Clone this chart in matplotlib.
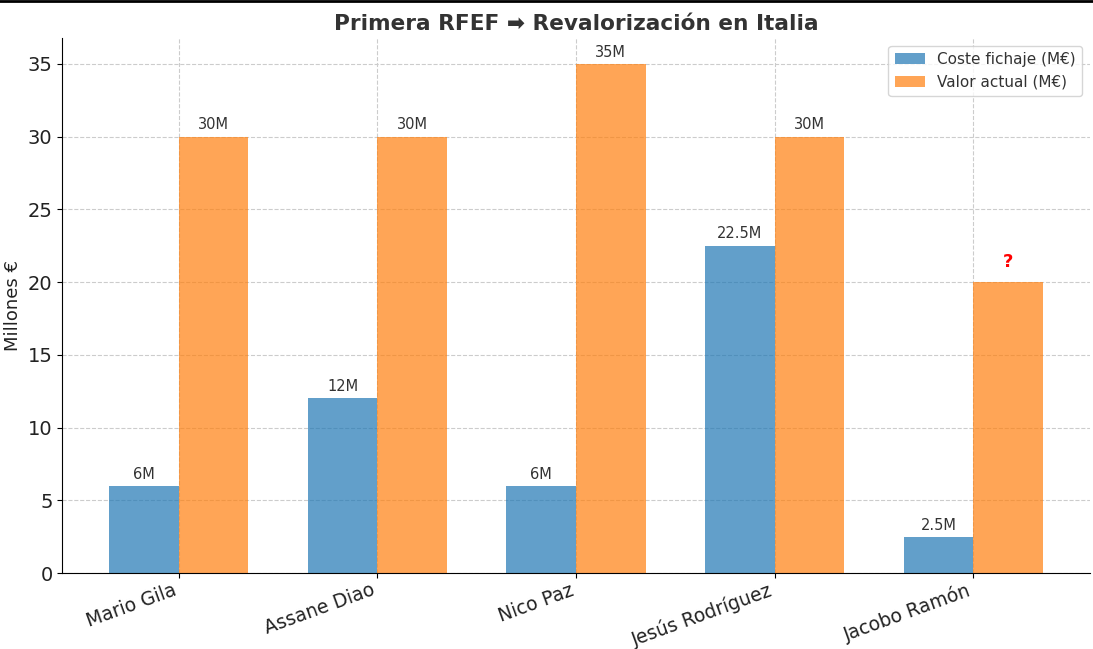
import matplotlib.pyplot as plt
import numpy as np

players = ["Mario Gila", "Assane Diao", "Nico Paz", "Jesús Rodríguez", "Jacobo Ramón"]
coste = [6, 12, 6, 22.5, 2.5]
valor = [30, 30, 35, 30, 20]
coste_labels = ["6M", "12M", "6M", "22.5M", "2.5M"]
valor_labels = ["30M", "30M", "35M", "30M", "?"]


def main():
    fig, ax = plt.subplots(figsize=(10.93, 6.49), dpi=100)
    x = np.arange(len(players))
    width = 0.35

    b1 = ax.bar(x - width / 2, coste, width, color="tab:blue", alpha=0.7,
                label="Coste fichaje (M€)", zorder=2)
    b2 = ax.bar(x + width / 2, valor, width, color="tab:orange", alpha=0.7,
                label="Valor actual (M€)", zorder=2)

    for rect, lab in zip(b1, coste_labels):
        ax.annotate(lab, (rect.get_x() + rect.get_width() / 2, rect.get_height()),
                    xytext=(0, 3), textcoords="offset points",
                    ha="center", va="bottom", fontsize=10.5, color="#333333")
    for rect, lab in zip(b2, valor_labels):
        if lab == "?":
            ax.annotate(lab, (rect.get_x() + rect.get_width() / 2, rect.get_height()),
                        xytext=(0, 8), textcoords="offset points",
                        ha="center", va="bottom", fontsize=13,
                        fontweight="bold", color="red")
        else:
            ax.annotate(lab, (rect.get_x() + rect.get_width() / 2, rect.get_height()),
                        xytext=(0, 3), textcoords="offset points",
                        ha="center", va="bottom", fontsize=10.5, color="#333333")

    ax.set_xticks(x)
    ax.set_xticklabels(players, rotation=20, ha="right", fontsize=13.5, color="#222222")
    ax.tick_params(axis="x", pad=2)
    ax.tick_params(axis="y", labelsize=14, labelcolor="#222222")
    ax.set_ylabel("Millones €", fontsize=13, color="#222222")
    ax.set_title("Primera RFEF ➡ Revalorización en Italia", fontsize=15.6,
                 fontweight="bold", color="#333333")
    ax.grid(True, linestyle="--", color="#cccccc", linewidth=0.8, zorder=0)
    ax.set_axisbelow(True)
    ax.spines["top"].set_visible(False)
    ax.spines["right"].set_visible(False)
    leg = ax.legend(loc="upper right", fontsize=11)
    for t in leg.get_texts():
        t.set_color("#333333")

    fig.subplots_adjust(left=0.057, right=0.997, top=0.941, bottom=0.117)
    fig.add_artist(plt.Line2D([0, 1], [0.999, 0.999], color="black", linewidth=2,
                              transform=fig.transFigure))
    fig.savefig("out.png", dpi=100)


if __name__ == "__main__":
    main()
